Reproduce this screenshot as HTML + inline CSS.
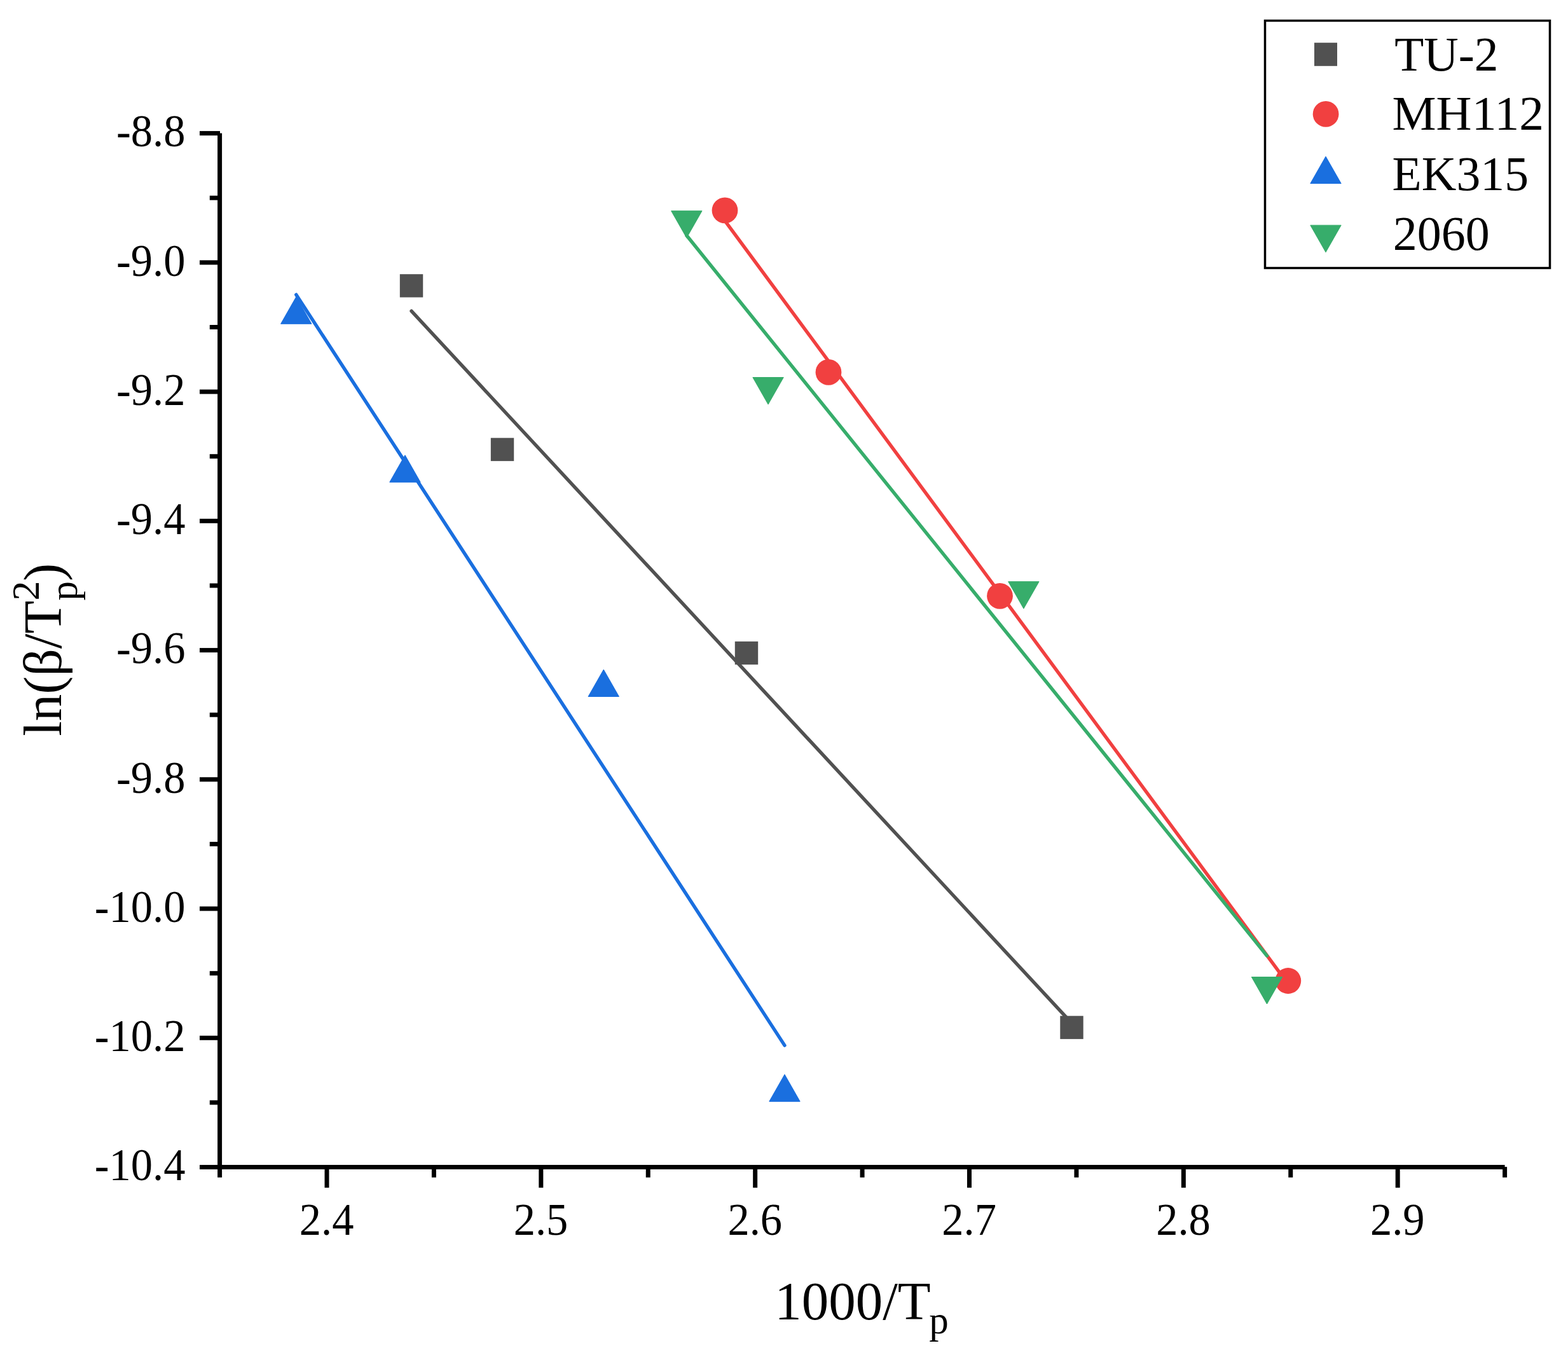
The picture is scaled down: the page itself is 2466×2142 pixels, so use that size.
<!DOCTYPE html>
<html lang="en"><head><meta charset="utf-8"><title>ln(β/Tp²) vs 1000/Tp</title>
<style>
html,body{margin:0;padding:0;background:#fff;}
body{width:2466px;height:2142px;}
svg{display:block;}
text{font-family:"Liberation Serif","DejaVu Serif",serif;fill:#000;}
.tk{font-size:71px;}
.ttl{font-size:85px;}
.lg{font-size:77px;}
</style></head><body>
<svg width="2466" height="2142" viewBox="0 0 2466 2142">
<rect width="2466" height="2142" fill="#fff"/>
<line x1="647.05" y1="489.15" x2="1685.50" y2="1609.17" stroke="#515151" stroke-width="5.4" stroke-linecap="round"/>
<line x1="1140.00" y1="347.12" x2="2025.80" y2="1547.65" stroke="#F14040" stroke-width="5.4" stroke-linecap="round"/>
<line x1="465.80" y1="463.45" x2="1234.00" y2="1644.11" stroke="#1A6FDF" stroke-width="5.4" stroke-linecap="round"/>
<line x1="1079.85" y1="370.29" x2="1992.50" y2="1503.10" stroke="#37AD6B" stroke-width="5.4" stroke-linecap="round"/>
<rect x="628.85" y="431.20" width="36.4" height="36.4" fill="#515151"/>
<rect x="771.85" y="688.70" width="36.4" height="36.4" fill="#515151"/>
<rect x="1155.80" y="1008.80" width="36.4" height="36.4" fill="#515151"/>
<rect x="1667.30" y="1597.70" width="36.4" height="36.4" fill="#515151"/>
<circle cx="1140.0" cy="330.9" r="20.4" fill="#F14040"/>
<circle cx="1303.0" cy="585.4" r="20.4" fill="#F14040"/>
<circle cx="1572.5" cy="937.3" r="20.4" fill="#F14040"/>
<circle cx="2025.8" cy="1542.5" r="20.4" fill="#F14040"/>
<polygon points="441.60,509.30 490.00,509.30 465.80,466.80" fill="#1A6FDF" stroke="#1A6FDF" stroke-width="1" stroke-linejoin="round"/>
<polygon points="612.80,758.30 661.20,758.30 637.00,715.80" fill="#1A6FDF" stroke="#1A6FDF" stroke-width="1" stroke-linejoin="round"/>
<polygon points="925.10,1095.50 973.50,1095.50 949.30,1053.00" fill="#1A6FDF" stroke="#1A6FDF" stroke-width="1" stroke-linejoin="round"/>
<polygon points="1209.80,1732.25 1258.20,1732.25 1234.00,1689.75" fill="#1A6FDF" stroke="#1A6FDF" stroke-width="1" stroke-linejoin="round"/>
<polygon points="1055.65,331.70 1104.05,331.70 1079.85,374.20" fill="#37AD6B" stroke="#37AD6B" stroke-width="1" stroke-linejoin="round"/>
<polygon points="1183.90,593.50 1232.30,593.50 1208.10,636.00" fill="#37AD6B" stroke="#37AD6B" stroke-width="1" stroke-linejoin="round"/>
<polygon points="1585.70,914.70 1634.10,914.70 1609.90,957.20" fill="#37AD6B" stroke="#37AD6B" stroke-width="1" stroke-linejoin="round"/>
<polygon points="1968.30,1536.50 2016.70,1536.50 1992.50,1579.00" fill="#37AD6B" stroke="#37AD6B" stroke-width="1" stroke-linejoin="round"/>
<g stroke="#000" stroke-width="7.0" fill="none">
<line x1="345.6" y1="209.6" x2="345.6" y2="1835.55"/>
<line x1="345.6" y1="1835.55" x2="2366.6" y2="1835.55"/>
<line x1="314.00" y1="209.60" x2="346.00" y2="209.60"/>
<line x1="329.80" y1="311.22" x2="346.00" y2="311.22"/>
<line x1="314.00" y1="412.84" x2="346.00" y2="412.84"/>
<line x1="329.80" y1="514.47" x2="346.00" y2="514.47"/>
<line x1="314.00" y1="616.09" x2="346.00" y2="616.09"/>
<line x1="329.80" y1="717.71" x2="346.00" y2="717.71"/>
<line x1="314.00" y1="819.33" x2="346.00" y2="819.33"/>
<line x1="329.80" y1="920.95" x2="346.00" y2="920.95"/>
<line x1="314.00" y1="1022.58" x2="346.00" y2="1022.58"/>
<line x1="329.80" y1="1124.20" x2="346.00" y2="1124.20"/>
<line x1="314.00" y1="1225.82" x2="346.00" y2="1225.82"/>
<line x1="329.80" y1="1327.44" x2="346.00" y2="1327.44"/>
<line x1="314.00" y1="1429.06" x2="346.00" y2="1429.06"/>
<line x1="329.80" y1="1530.68" x2="346.00" y2="1530.68"/>
<line x1="314.00" y1="1632.31" x2="346.00" y2="1632.31"/>
<line x1="329.80" y1="1733.93" x2="346.00" y2="1733.93"/>
<line x1="314.00" y1="1835.55" x2="346.00" y2="1835.55"/>
<line x1="345.60" y1="1835.15" x2="345.60" y2="1851.75"/>
<line x1="514.02" y1="1835.15" x2="514.02" y2="1867.85"/>
<line x1="682.43" y1="1835.15" x2="682.43" y2="1851.75"/>
<line x1="850.85" y1="1835.15" x2="850.85" y2="1867.85"/>
<line x1="1019.27" y1="1835.15" x2="1019.27" y2="1851.75"/>
<line x1="1187.68" y1="1835.15" x2="1187.68" y2="1867.85"/>
<line x1="1356.10" y1="1835.15" x2="1356.10" y2="1851.75"/>
<line x1="1524.52" y1="1835.15" x2="1524.52" y2="1867.85"/>
<line x1="1692.93" y1="1835.15" x2="1692.93" y2="1851.75"/>
<line x1="1861.35" y1="1835.15" x2="1861.35" y2="1867.85"/>
<line x1="2029.77" y1="1835.15" x2="2029.77" y2="1851.75"/>
<line x1="2198.18" y1="1835.15" x2="2198.18" y2="1867.85"/>
<line x1="2366.60" y1="1835.15" x2="2366.60" y2="1851.75"/>
</g>
<g transform="translate(291.4,230.40) scale(0.965,1)"><text class="tk" x="0" y="0" text-anchor="end">-8.8</text></g>
<g transform="translate(291.4,433.64) scale(0.965,1)"><text class="tk" x="0" y="0" text-anchor="end">-9.0</text></g>
<g transform="translate(291.4,636.89) scale(0.965,1)"><text class="tk" x="0" y="0" text-anchor="end">-9.2</text></g>
<g transform="translate(291.4,840.13) scale(0.965,1)"><text class="tk" x="0" y="0" text-anchor="end">-9.4</text></g>
<g transform="translate(291.4,1043.38) scale(0.965,1)"><text class="tk" x="0" y="0" text-anchor="end">-9.6</text></g>
<g transform="translate(291.4,1246.62) scale(0.965,1)"><text class="tk" x="0" y="0" text-anchor="end">-9.8</text></g>
<g transform="translate(291.4,1449.86) scale(0.965,1)"><text class="tk" x="0" y="0" text-anchor="end">-10.0</text></g>
<g transform="translate(291.4,1653.11) scale(0.965,1)"><text class="tk" x="0" y="0" text-anchor="end">-10.2</text></g>
<g transform="translate(291.4,1856.35) scale(0.965,1)"><text class="tk" x="0" y="0" text-anchor="end">-10.4</text></g>
<g transform="translate(513.62,1942) scale(0.965,1)"><text class="tk" x="0" y="0" text-anchor="middle">2.4</text></g>
<g transform="translate(850.45,1942) scale(0.965,1)"><text class="tk" x="0" y="0" text-anchor="middle">2.5</text></g>
<g transform="translate(1187.28,1942) scale(0.965,1)"><text class="tk" x="0" y="0" text-anchor="middle">2.6</text></g>
<g transform="translate(1524.12,1942) scale(0.965,1)"><text class="tk" x="0" y="0" text-anchor="middle">2.7</text></g>
<g transform="translate(1860.95,1942) scale(0.965,1)"><text class="tk" x="0" y="0" text-anchor="middle">2.8</text></g>
<g transform="translate(2197.78,1942) scale(0.965,1)"><text class="tk" x="0" y="0" text-anchor="middle">2.9</text></g>
<text class="ttl" x="1218.2" y="2074.8">1000/T<tspan font-size="61" dy="22.6" dx="-2.5">p</tspan></text>
<text class="ttl" transform="translate(96,1157.8) rotate(-90)">ln(β/T<tspan font-size="62" dy="-35">2</tspan><tspan font-size="61" dy="60" dx="-31">p</tspan><tspan dy="-25">)</tspan></text>
<rect x="1989.5" y="32.5" width="448" height="389" fill="#fff" stroke="#000" stroke-width="3.5"/>
<rect x="2067" y="67.2" width="36" height="36.6" fill="#515151"/>
<circle cx="2085.1" cy="179.4" r="20.4" fill="#F14040"/>
<polygon points="2060.80,288.60 2109.20,288.60 2085.00,246.10" fill="#1A6FDF" stroke="#1A6FDF" stroke-width="1" stroke-linejoin="round"/>
<polygon points="2060.80,354.20 2109.20,354.20 2085.00,396.70" fill="#37AD6B" stroke="#37AD6B" stroke-width="1" stroke-linejoin="round"/>
<g transform="translate(2193.2,110.5) scale(0.979,1)"><text class="lg" x="0" y="0">TU-2</text></g>
<g transform="translate(2189.6,204.4) scale(1.008,1)"><text class="lg" x="0" y="0">MH112</text></g>
<g transform="translate(2189.6,298.6) scale(0.983,1)"><text class="lg" x="0" y="0">EK315</text></g>
<g transform="translate(2190.8,393.2) scale(0.987,1)"><text class="lg" x="0" y="0">2060</text></g>
</svg>
</body></html>
